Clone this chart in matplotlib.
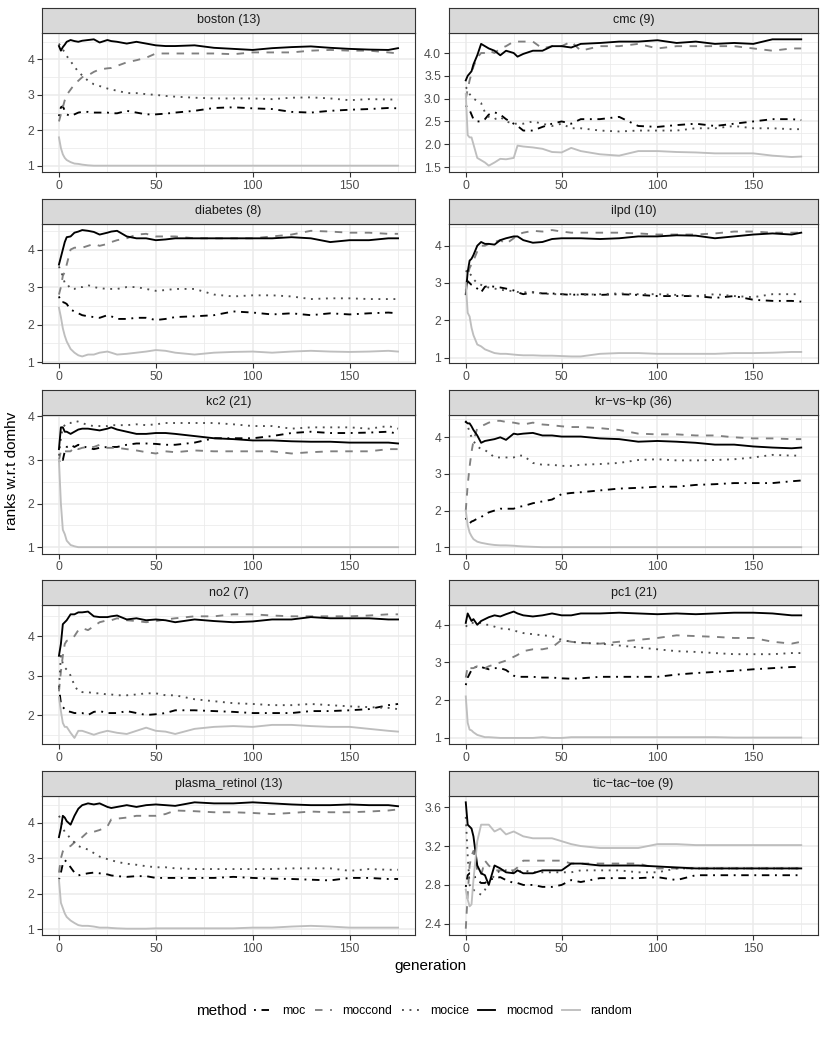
import matplotlib
matplotlib.use('Agg')
import matplotlib.pyplot as plt
from matplotlib.lines import Line2D
from matplotlib.ticker import FixedLocator, FormatStrFormatter

plt.rcParams['font.family'] = ['Liberation Sans', 'DejaVu Sans']

# ---------------- data ----------------
generation = [0, 1, 2, 3, 4, 6, 8, 10, 12, 15, 18, 21, 25, 27, 30, 35, 40, 45, 50, 55,
              60, 70, 80, 90, 100, 110, 120, 130, 140, 150, 160, 170, 175]

methods = ['moc', 'moccond', 'mocice', 'mocmod', 'random']
panel_titles = ['boston (13)', 'cmc (9)', 'diabetes (8)', 'ilpd (10)', 'kc2 (21)',
                'kr\u2212vs\u2212kp (36)', 'no2 (7)', 'pc1 (21)', 'plasma_retinol (13)',
                'tic\u2212tac\u2212toe (9)']

boston_moc = [2.40,2.65,2.68,2.55,2.45, 2.40,2.45,2.50,2.52,2.52, 2.50,2.50,2.50,2.48,2.48, 2.55,2.50,2.45,2.45,2.47, 2.50,2.55,2.63,2.65,2.62, 2.60,2.52,2.50,2.55,2.58, 2.60,2.63,2.62]
boston_moccond = [2.25,2.45,2.65,2.85,3.00, 3.15,3.30,3.40,3.50,3.55, 3.65,3.72,3.75,3.76,3.82, 3.92,3.98,4.05,4.17,4.17, 4.17,4.17,4.17,4.15,4.20, 4.20,4.20,4.25,4.27,4.25, 4.25,4.20,4.17]
boston_mocice = [4.45,4.35,4.28,4.20,4.10, 3.95,3.80,3.65,3.55,3.40, 3.30,3.25,3.18,3.15,3.12, 3.05,3.05,3.02,3.00,2.97, 2.95,2.92,2.90,2.90,2.90, 2.88,2.92,2.93,2.90,2.85, 2.88,2.87,2.87]
boston_mocmod = [4.38,4.25,4.35,4.42,4.50, 4.55,4.52,4.50,4.53,4.55, 4.57,4.48,4.55,4.52,4.50, 4.45,4.50,4.45,4.40,4.38, 4.38,4.40,4.33,4.30,4.27, 4.32,4.35,4.37,4.33,4.30, 4.28,4.27,4.32]
boston_random = [1.80,1.50,1.32,1.22,1.16, 1.10,1.06,1.05,1.03,1.01, 1.00,1.00,1.00,1.00,1.00, 1.00,1.00,1.00,1.00,1.00, 1.00,1.00,1.00,1.00,1.00, 1.00,1.00,1.00,1.00,1.00, 1.00,1.00,1.00]

cmc_moc = [2.85,2.80,2.75,2.65,2.55, 2.50,2.50,2.55,2.65,2.70, 2.65,2.55,2.45,2.40,2.30, 2.30,2.38,2.45,2.50,2.45, 2.55,2.55,2.60,2.40,2.38, 2.42,2.45,2.40,2.45,2.50, 2.55,2.55,2.53]
cmc_moccond = [3.00,3.20,3.40,3.55,3.70, 3.90,4.00,4.00,4.05,4.00, 4.10,4.15,4.25,4.25,4.25, 4.25,4.10,4.15,4.15,4.25, 4.05,4.15,4.15,4.20,4.10, 4.15,4.15,4.15,4.15,4.10, 4.05,4.10,4.10]
cmc_mocice = [3.25,3.20,3.10,3.05,3.00, 2.95,2.90,2.70,2.60,2.55, 2.60,2.50,2.45,2.45,2.45, 2.50,2.45,2.40,2.45,2.35, 2.35,2.30,2.28,2.30,2.30, 2.30,2.35,2.35,2.40,2.35, 2.35,2.33,2.33]
cmc_mocmod = [3.40,3.50,3.55,3.60,3.75, 3.95,4.20,4.15,4.10,4.05, 3.95,4.05,4.00,3.92,3.98, 4.05,4.05,4.15,4.15,4.12, 4.20,4.22,4.25,4.25,4.28, 4.22,4.25,4.20,4.22,4.20, 4.30,4.30,4.30]
cmc_random = [3.10,2.20,2.15,2.15,2.00, 1.70,1.65,1.60,1.53,1.60, 1.68,1.67,1.70,1.97,1.95, 1.93,1.90,1.83,1.82,1.92, 1.85,1.78,1.75,1.85,1.85, 1.83,1.82,1.80,1.80,1.80, 1.75,1.72,1.73]

diabetes_moc = [2.75,2.60,2.60,2.58,2.55, 2.40,2.35,2.30,2.25,2.22, 2.20,2.18,2.25,2.22,2.15, 2.15,2.18,2.18,2.12,2.15, 2.20,2.22,2.25,2.35,2.32, 2.27,2.30,2.25,2.30,2.27, 2.30,2.32,2.30]
diabetes_moccond = [2.80,3.00,3.30,3.40,3.60, 4.00,4.05,4.05,4.05,4.10, 4.15,4.10,4.15,4.20,4.25, 4.30,4.40,4.42,4.35,4.35, 4.35,4.30,4.30,4.30,4.30, 4.35,4.40,4.50,4.48,4.45, 4.45,4.42,4.42]
diabetes_mocice = [3.55,3.40,3.30,3.10,3.10, 2.95,2.95,3.00,3.00,3.05, 3.00,2.97,2.95,2.95,2.95, 3.00,3.00,2.95,2.90,2.92, 2.95,2.95,2.80,2.75,2.78, 2.78,2.75,2.68,2.70,2.70, 2.68,2.68,2.68]
diabetes_mocmod = [3.60,3.80,4.00,4.20,4.33, 4.35,4.45,4.48,4.52,4.50, 4.47,4.40,4.45,4.48,4.50, 4.35,4.30,4.30,4.25,4.27, 4.30,4.30,4.30,4.30,4.30, 4.30,4.33,4.30,4.20,4.25, 4.25,4.30,4.30]
diabetes_random = [2.45,2.20,1.90,1.70,1.55, 1.35,1.25,1.18,1.15,1.20, 1.20,1.25,1.28,1.25,1.20, 1.22,1.25,1.28,1.32,1.30, 1.25,1.20,1.25,1.27,1.28, 1.25,1.28,1.30,1.28,1.27, 1.28,1.30,1.28]

ilpd_moc = [2.80,3.05,3.00,2.95,2.92, 2.85,2.75,2.90,2.92,2.90, 2.88,2.85,2.80,2.75,2.70, 2.75,2.72,2.72,2.70,2.68, 2.70,2.68,2.70,2.68,2.65, 2.65,2.65,2.60,2.65,2.55, 2.52,2.52,2.50]
ilpd_moccond = [2.90,3.20,3.40,3.50,3.60, 3.85,4.00,4.00,4.05,4.10, 4.15,4.05,4.20,4.30,4.35, 4.40,4.38,4.42,4.38,4.35, 4.35,4.35,4.35,4.33,4.30, 4.30,4.30,4.33,4.38,4.38, 4.35,4.35,4.35]
ilpd_mocice = [3.30,3.35,3.25,3.20,3.10, 3.00,2.95,2.90,2.88,2.85, 2.82,2.80,2.78,2.76,2.75, 2.75,2.72,2.70,2.70,2.70, 2.68,2.70,2.72,2.70,2.70, 2.68,2.65,2.70,2.65,2.62, 2.70,2.70,2.70]
ilpd_mocmod = [2.70,3.30,3.60,3.65,3.75, 4.00,4.10,4.05,4.05,4.03, 4.15,4.20,4.25,4.25,4.15, 4.08,4.10,4.18,4.20,4.20, 4.20,4.18,4.20,4.25,4.25, 4.28,4.27,4.20,4.25,4.30, 4.33,4.30,4.35]
ilpd_random = [3.00,2.20,2.10,1.80,1.60, 1.35,1.30,1.22,1.18,1.12, 1.10,1.10,1.08,1.07,1.06, 1.06,1.05,1.05,1.04,1.03, 1.03,1.10,1.12,1.12,1.10, 1.10,1.10,1.10,1.12,1.12, 1.13,1.15,1.15]

kc2_moc = [2.95,3.05,3.00,3.20,3.30, 3.35,3.30,3.35,3.32,3.28, 3.25,3.28,3.30,3.30,3.30, 3.35,3.38,3.38,3.37,3.35, 3.35,3.40,3.50,3.50,3.50, 3.55,3.62,3.65,3.62,3.62, 3.63,3.65,3.60]
kc2_moccond = [3.00,3.20,3.25,3.20,3.20, 3.20,3.30,3.25,3.28,3.30, 3.30,3.35,3.28,3.28,3.28, 3.25,3.22,3.18,3.15,3.20, 3.18,3.22,3.20,3.20,3.20, 3.20,3.15,3.18,3.20,3.20, 3.20,3.25,3.25]
kc2_mocice = [3.10,3.50,3.75,3.80,3.85, 3.85,3.90,3.88,3.85,3.80, 3.78,3.78,3.78,3.80,3.80, 3.80,3.82,3.80,3.82,3.85, 3.85,3.85,3.85,3.82,3.78, 3.78,3.72,3.75,3.75,3.75, 3.72,3.78,3.72]
kc2_mocmod = [3.25,3.75,3.75,3.65,3.65, 3.60,3.65,3.70,3.72,3.72, 3.70,3.68,3.72,3.75,3.70, 3.65,3.60,3.60,3.62,3.62, 3.60,3.55,3.50,3.48,3.45, 3.45,3.43,3.42,3.42,3.40, 3.40,3.40,3.38]
kc2_random = [3.00,2.00,1.40,1.30,1.15, 1.05,1.02,1.00,1.00,1.00, 1.00,1.00,1.00,1.00,1.00, 1.00,1.00,1.00,1.00,1.00, 1.00,1.00,1.00,1.00,1.00, 1.00,1.00,1.00,1.00,1.00, 1.00,1.00,1.00]

krvskp_moc = [1.80,1.68,1.65,1.70,1.72, 1.78,1.82,1.90,1.95,2.00, 2.05,2.05,2.05,2.10,2.12, 2.20,2.25,2.30,2.45,2.48, 2.50,2.55,2.60,2.62,2.65, 2.65,2.70,2.72,2.75,2.75, 2.75,2.80,2.82]
krvskp_moccond = [2.00,2.70,3.20,3.60,3.90, 4.25,4.30,4.35,4.40,4.45, 4.45,4.42,4.40,4.38,4.35, 4.40,4.35,4.33,4.30,4.28, 4.28,4.25,4.20,4.10,4.08, 4.08,4.05,4.05,4.00,3.97, 3.97,3.95,3.95]
krvskp_mocice = [4.45,4.30,4.15,4.00,3.90, 3.75,3.68,3.65,3.58,3.45, 3.45,3.45,3.45,3.50,3.50, 3.30,3.25,3.25,3.22,3.22, 3.25,3.27,3.30,3.38,3.40, 3.37,3.37,3.38,3.40,3.45, 3.52,3.50,3.50]
krvskp_mocmod = [4.42,4.38,4.38,4.30,4.20, 4.05,3.85,3.90,3.92,3.95, 4.00,3.93,4.10,4.08,4.10, 4.12,4.05,4.05,4.02,4.02, 4.02,3.97,3.95,3.88,3.90, 3.88,3.85,3.80,3.80,3.75, 3.72,3.70,3.72]
krvskp_random = [2.00,1.60,1.40,1.30,1.22, 1.15,1.12,1.10,1.08,1.06, 1.05,1.05,1.04,1.03,1.02, 1.01,1.00,1.00,1.00,1.00, 1.00,1.00,1.00,1.00,1.00, 1.00,1.00,1.00,1.00,1.00, 1.00,1.00,1.00]

no2_moc = [2.70,2.30,2.20,2.15,2.10, 2.08,2.05,2.05,2.05,2.00, 2.08,2.10,2.05,2.05,2.05, 2.10,2.05,2.00,2.02,2.05, 2.12,2.12,2.10,2.08,2.05, 2.05,2.05,2.10,2.10,2.12, 2.15,2.25,2.28]
no2_moccond = [2.60,3.10,3.50,3.80,3.88, 3.90,4.00,4.15,4.20,4.15, 4.25,4.35,4.40,4.40,4.45, 4.40,4.38,4.35,4.38,4.42, 4.45,4.50,4.50,4.55,4.55, 4.52,4.50,4.50,4.50,4.50, 4.52,4.55,4.55]
no2_mocice = [2.70,3.50,3.30,3.20,3.15, 3.00,2.75,2.60,2.58,2.58, 2.55,2.55,2.52,2.52,2.50, 2.50,2.52,2.55,2.55,2.50, 2.50,2.40,2.35,2.30,2.28, 2.25,2.25,2.28,2.25,2.22, 2.20,2.18,2.15]
no2_mocmod = [3.50,3.80,4.30,4.35,4.40, 4.55,4.55,4.60,4.60,4.62, 4.50,4.48,4.48,4.50,4.52, 4.42,4.45,4.40,4.42,4.40, 4.35,4.42,4.38,4.35,4.37, 4.42,4.42,4.48,4.45,4.45, 4.45,4.42,4.42]
no2_random = [2.45,2.10,1.80,1.70,1.70, 1.55,1.42,1.60,1.60,1.55, 1.50,1.55,1.60,1.58,1.55, 1.52,1.60,1.68,1.60,1.58, 1.52,1.65,1.70,1.72,1.70, 1.75,1.75,1.72,1.70,1.70, 1.65,1.60,1.58]

pc1_moc = [2.40,2.60,2.70,2.80,2.85, 2.90,2.88,2.85,2.82,2.85, 2.85,2.80,2.65,2.62,2.62, 2.62,2.60,2.60,2.58,2.57, 2.58,2.62,2.62,2.62,2.62, 2.68,2.72,2.75,2.78,2.82, 2.85,2.88,2.88]
pc1_moccond = [2.60,2.90,2.85,2.85,2.85, 2.90,2.90,2.85,2.90,2.95, 3.00,3.05,3.15,3.20,3.30, 3.35,3.35,3.40,3.60,3.55, 3.52,3.50,3.55,3.60,3.65, 3.72,3.70,3.68,3.65,3.65, 3.55,3.50,3.55]
pc1_mocice = [3.95,4.00,4.05,4.05,4.05, 4.05,4.05,4.00,4.00,3.95, 3.90,3.90,3.85,3.82,3.78, 3.75,3.72,3.70,3.60,3.55, 3.52,3.50,3.45,3.40,3.35, 3.30,3.28,3.25,3.22,3.22, 3.22,3.25,3.25]
pc1_mocmod = [4.05,4.30,4.20,4.10,4.15, 4.00,4.10,4.15,4.20,4.25, 4.22,4.28,4.35,4.30,4.25, 4.22,4.25,4.30,4.25,4.25, 4.30,4.30,4.32,4.30,4.28, 4.30,4.28,4.30,4.32,4.32, 4.30,4.25,4.25]
pc1_random = [2.10,1.40,1.22,1.20,1.15, 1.08,1.05,1.02,1.02,1.01, 1.00,1.00,1.00,1.00,1.00, 1.00,1.02,1.00,1.00,1.02, 1.02,1.02,1.02,1.02,1.02, 1.02,1.02,1.02,1.01,1.01, 1.01,1.01,1.01]

plasma_moc = [2.40,2.60,2.85,2.95,2.90, 2.75,2.60,2.52,2.55,2.58, 2.60,2.58,2.55,2.52,2.50, 2.48,2.50,2.50,2.45,2.45, 2.45,2.45,2.45,2.48,2.45, 2.43,2.42,2.40,2.38,2.45, 2.45,2.42,2.42]
plasma_moccond = [2.60,3.00,3.20,3.25,3.30, 3.35,3.45,3.50,3.60,3.75, 3.75,3.80,3.90,4.10,4.12, 4.15,4.20,4.20,4.20,4.25, 4.35,4.33,4.30,4.30,4.28, 4.25,4.28,4.32,4.30,4.30, 4.32,4.35,4.38]
plasma_mocice = [4.20,4.10,3.85,3.75,3.70, 3.55,3.45,3.35,3.30,3.25, 3.15,3.05,2.98,2.95,2.90, 2.85,2.82,2.78,2.75,2.75, 2.72,2.70,2.70,2.70,2.70, 2.70,2.72,2.72,2.72,2.65, 2.70,2.68,2.68]
plasma_mocmod = [3.60,3.85,4.20,4.15,4.05, 3.95,4.20,4.40,4.50,4.55, 4.52,4.55,4.45,4.42,4.45, 4.50,4.45,4.50,4.52,4.50, 4.48,4.58,4.55,4.55,4.58, 4.55,4.52,4.50,4.50,4.52, 4.50,4.50,4.47]
plasma_random = [2.40,1.75,1.60,1.45,1.35, 1.25,1.18,1.12,1.10,1.10, 1.08,1.05,1.05,1.04,1.03, 1.02,1.02,1.02,1.03,1.03, 1.03,1.03,1.03,1.03,1.05, 1.05,1.08,1.10,1.08,1.05, 1.05,1.05,1.05]

ttt_moc = [2.78,2.90,2.92,2.92,2.90, 2.85,2.82,2.82,2.85,2.87, 2.88,2.85,2.82,2.82,2.80, 2.80,2.78,2.78,2.80,2.85, 2.83,2.87,2.87,2.87,2.88, 2.85,2.90,2.90,2.90,2.90, 2.90,2.90,2.90]
ttt_moccond = [2.35,2.70,3.00,3.10,3.15, 2.95,2.90,3.05,3.00,2.95, 2.95,2.95,2.95,2.98,3.05, 3.05,3.05,3.05,3.05,3.02, 3.02,3.02,3.02,3.02,2.97, 2.97,2.97,2.97,2.97,2.97, 2.97,2.97,2.97]
ttt_mocice = [3.50,3.10,2.80,2.75,2.75, 2.72,2.70,2.75,2.82,2.90, 2.95,2.95,2.93,2.93,2.95, 2.93,2.93,2.93,2.93,2.93, 2.95,2.95,2.95,2.93,2.93, 2.97,2.97,2.97,2.97,2.97, 2.97,2.97,2.97]
ttt_mocmod = [3.65,3.42,3.40,3.38,3.30, 3.00,2.92,2.90,2.80,3.00, 2.97,2.93,2.92,2.95,2.92, 2.92,2.95,2.95,2.95,3.02, 3.02,3.00,3.00,3.00,2.99, 2.98,2.97,2.97,2.97,2.97, 2.97,2.97,2.97]
ttt_random = [2.75,2.65,2.58,2.60,2.85, 3.25,3.42,3.42,3.42,3.35, 3.38,3.32,3.35,3.33,3.30, 3.28,3.28,3.28,3.25,3.22, 3.20,3.18,3.18,3.18,3.22, 3.22,3.21,3.21,3.21,3.21, 3.21,3.21,3.21]

panel_series = [
    [boston_moc, boston_moccond, boston_mocice, boston_mocmod, boston_random],
    [cmc_moc, cmc_moccond, cmc_mocice, cmc_mocmod, cmc_random],
    [diabetes_moc, diabetes_moccond, diabetes_mocice, diabetes_mocmod, diabetes_random],
    [ilpd_moc, ilpd_moccond, ilpd_mocice, ilpd_mocmod, ilpd_random],
    [kc2_moc, kc2_moccond, kc2_mocice, kc2_mocmod, kc2_random],
    [krvskp_moc, krvskp_moccond, krvskp_mocice, krvskp_mocmod, krvskp_random],
    [no2_moc, no2_moccond, no2_mocice, no2_mocmod, no2_random],
    [pc1_moc, pc1_moccond, pc1_mocice, pc1_mocmod, pc1_random],
    [plasma_moc, plasma_moccond, plasma_mocice, plasma_mocmod, plasma_random],
    [ttt_moc, ttt_moccond, ttt_mocice, ttt_mocmod, ttt_random],
]

y_breaks = [
    [1, 2, 3, 4], [1.5, 2.0, 2.5, 3.0, 3.5, 4.0], [1, 2, 3, 4], [1, 2, 3, 4], [1, 2, 3, 4],
    [1, 2, 3, 4], [2, 3, 4], [1, 2, 3, 4], [1, 2, 3, 4], [2.4, 2.8, 3.2, 3.6],
]
y_formats = ['%d', '%.1f', '%d', '%d', '%d', '%d', '%d', '%d', '%d', '%.1f']
x_breaks = [0, 50, 100, 150]
x_minor = [25, 75, 125, 175]

# ---------------- styles ----------------
styles = {
    'moc':     dict(color='#000000', dashes=(1, 3, 4, 3)),
    'moccond': dict(color='#808080', dashes=(4, 4)),
    'mocice':  dict(color='#4D4D4D', dashes=(1, 3)),
    'mocmod':  dict(color='#000000', dashes=None),
    'random':  dict(color='#BEBEBE', dashes=None),
}
LW = 1.35

W, H = 830, 1038
fig = plt.figure(figsize=(W / 100, H / 100), dpi=100)

col_x = [(42, 373), (449, 369)]
strip_h, panel_h, pitch, top0 = 25, 139, 190.75, 8

for i, title in enumerate(panel_titles):
    r, c = divmod(i, 2)
    x0, wpx = col_x[c]
    st = top0 + r * pitch
    pt = st + strip_h
    pb = pt + panel_h
    ax = fig.add_axes([x0 / W, 1 - pb / H, wpx / W, panel_h / H])
    sax = fig.add_axes([x0 / W, 1 - pt / H, wpx / W, strip_h / H])

    for m, vals in zip(methods, panel_series[i]):
        st_ = styles[m]
        ln, = ax.plot(generation, vals, color=st_['color'], lw=LW, zorder=3,
                      solid_joinstyle='round')
        if st_['dashes'] is not None:
            ln.set_dashes(st_['dashes'])
    ax.margins(x=0.05, y=0.05)

    yb = y_breaks[i]
    step = yb[1] - yb[0]
    yminor = [yb[0] - step / 2] + [v + step / 2 for v in yb]
    ax.yaxis.set_major_locator(FixedLocator(yb))
    ax.yaxis.set_minor_locator(FixedLocator(yminor))
    ax.yaxis.set_major_formatter(FormatStrFormatter(y_formats[i]))
    ax.xaxis.set_major_locator(FixedLocator(x_breaks))
    ax.xaxis.set_minor_locator(FixedLocator(x_minor))
    ax.grid(which='major', color='#EBEBEB', lw=1.1, zorder=0)
    ax.grid(which='minor', color='#EBEBEB', lw=0.55, zorder=0)
    ax.set_axisbelow(True)
    ax.tick_params(which='major', length=3.5, width=0.8, color='#333333',
                   labelsize=8.8, labelcolor='#4D4D4D', pad=2.2)
    ax.tick_params(which='minor', length=0)
    for sp in ax.spines.values():
        sp.set_color('#333333')
        sp.set_linewidth(0.8)
    ax.set_facecolor('white')

    sax.set_facecolor('#D9D9D9')
    sax.set_xticks([])
    sax.set_yticks([])
    for sp in sax.spines.values():
        sp.set_color('#333333')
        sp.set_linewidth(0.8)
    sax.text(0.5, 0.5, title, ha='center', va='center', fontsize=9,
             color='#1A1A1A', transform=sax.transAxes)

fig.text(12 / W, 1 - 471 / H, 'ranks w.r.t domhv', rotation=90, ha='center',
         va='center', fontsize=11, color='black')
fig.text(430 / W, 1 - 966 / H, 'generation', ha='center', va='center',
         fontsize=11, color='black')

# legend
handles = []
for m in methods:
    st_ = styles[m]
    h = Line2D([0], [0], color=st_['color'], lw=LW)
    if st_['dashes'] is not None:
        h.set_dashes(st_['dashes'])
    handles.append(h)
fig.text(221 / W, 1 - 1011 / H, 'method', ha='center', va='center', fontsize=11)
fig.legend(handles, methods, loc='center left', bbox_to_anchor=(254 / W, 1 - 1011 / H),
           ncol=5, frameon=False, fontsize=8.8, handlelength=1.4, handletextpad=0.9,
           columnspacing=0.75, borderaxespad=0, borderpad=0)

fig.savefig('out.png', dpi=100)
